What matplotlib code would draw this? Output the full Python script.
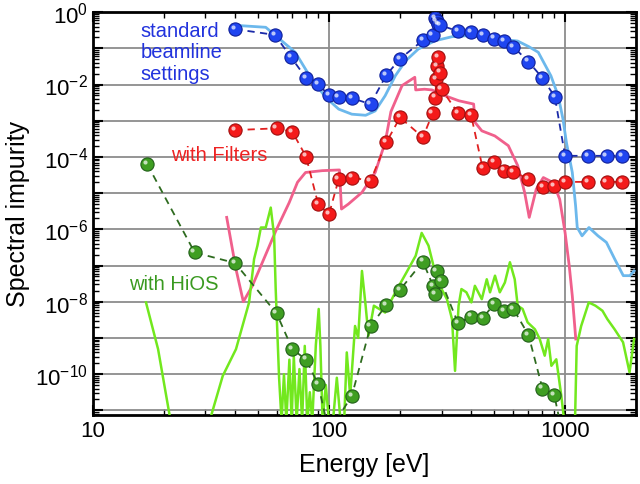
import numpy as np
import matplotlib
matplotlib.use('Agg')
import matplotlib.pyplot as plt
from matplotlib.ticker import LogLocator, FixedLocator, FuncFormatter, NullFormatter
from matplotlib.transforms import ScaledTranslation

plt.rcParams['font.family'] = ['Liberation Sans', 'DejaVu Sans']
plt.rcParams['mathtext.fontset'] = 'custom'
plt.rcParams['mathtext.rm'] = 'Liberation Sans'
plt.rcParams['mathtext.it'] = 'Liberation Sans:italic'
plt.rcParams['axes.unicode_minus'] = False

# ---- data (energy in eV, impurity stored as log10) ----
std_E = [40, 59, 69, 80, 90, 100, 110, 125, 150, 175, 200, 250, 275, 282, 286, 291, 296,
         352, 400, 448, 500, 551, 604, 700, 802, 905, 1000, 1250, 1500, 1750]
std_log = [-0.47, -0.63, -1.24, -1.82, -1.99, -2.30, -2.34, -2.38, -2.54, -1.74, -1.29, -0.78,
           -0.63, -0.17, -0.24, -0.33, -0.36, -0.53, -0.55, -0.64, -0.73, -0.81, -0.96, -1.37,
           -1.82, -2.34, -3.97, -3.97, -3.97, -3.97]

filt_E = [40, 60, 70, 80, 90, 100, 110, 125, 150, 175, 200, 250, 275, 282, 285, 287, 290, 295,
          300, 352, 400, 448, 500, 551, 604, 700, 810, 900, 1000, 1250, 1500, 1750]
filt_log = [-3.26, -3.21, -3.31, -3.99, -5.30, -5.59, -4.61, -4.57, -4.66, -3.60, -2.91, -3.46,
            -2.79, -2.36, -1.85, -1.50, -1.25, -1.67, -2.13, -2.79, -2.85, -4.32, -4.15, -4.38,
            -4.41, -4.61, -4.84, -4.80, -4.69, -4.69, -4.69, -4.69]

hios_E = [17, 27, 40, 60, 70, 80, 90, 100, 125, 150, 175, 200, 250, 276, 282, 286, 298,
          352, 400, 448, 500, 551, 604, 700, 802, 900, 1000]
hios_log = [-4.20, -6.64, -6.93, -8.32, -9.31, -9.60, -10.28, -11.6, -10.6, -8.68, -8.09, -7.67,
            -6.89, -7.56, -7.79, -7.15, -7.42, -8.59, -8.41, -8.45, -8.07, -8.25, -8.20, -8.92,
            -10.4, -10.58, -12.0]

std_line_E = [39, 54, 72, 83.5, 97, 110, 125, 143, 157, 173, 191, 211, 239, 282, 332, 389, 459,
              537, 630, 700, 770, 871, 935, 980, 1013, 1073, 1108, 1126, 1180, 1262, 1378, 1496,
              1622, 1764, 1880, 1960]
std_line_log = [-0.36, -0.42, -1.11, -1.80, -2.36, -2.68, -2.82, -2.85, -2.73, -2.31, -1.76,
                -1.35, -1.02, -0.79, -0.68, -0.65, -0.70, -0.75, -0.80, -0.95, -1.11, -1.76,
                -2.31, -2.96, -3.60, -4.43, -5.35, -5.95, -6.18, -5.95, -6.18, -6.36, -6.82,
                -7.28, -7.28, -7.15]

filt_line_E = [36.9, 40.4, 43.4, 47.4, 53, 59.6, 67.9, 73.6, 79.6, 93.6, 110.8, 113, 121, 138,
               157, 173, 183, 204, 231, 233, 254, 273, 310, 355, 410, 416, 444, 504, 575, 630,
               674, 705, 755, 809, 891, 949, 1000, 1041, 1073, 1110]
filt_line_log = [-5.67, -7.1, -8.0, -7.56, -6.82, -6.04, -5.26, -4.70, -4.43, -4.38, -4.36,
                 -5.44, -5.30, -4.98, -4.43, -3.60, -2.75, -2.03, -1.80, -2.15, -2.13, -2.15,
                 -2.31, -2.45, -2.54, -3.05, -3.28, -3.42, -3.69, -4.24, -4.98, -5.67, -4.89,
                 -4.57, -4.71, -5.17, -6.09, -7.0, -7.84, -9.03]

hios_line_E = [16.8, 18.9, 21.1, 23, 30, 31.7, 35.5, 40.4, 45.9, 48.2, 49.8, 51.5, 54, 56.7,
               58.6, 59.5, 61.5, 63, 64.5, 66, 68, 69.5, 71, 73, 75, 77, 79, 81, 83, 85, 88,
               90.5, 92, 94, 97, 100, 104, 108, 112, 116, 119, 123, 129, 133, 138, 143, 147,
               155, 173, 191, 213, 233, 247, 264, 277, 300, 316, 332, 342, 354, 364, 382, 401,
               415, 444, 466, 481, 505, 529, 556, 584, 612, 630, 661, 694, 745, 781, 820, 848,
               875, 918, 964, 1000, 1050, 1100, 1120, 1170, 1260, 1345, 1440, 1510, 1620,
               1760, 1875, 1960]
hios_line_log = [-8.02, -9.31, -11.1, -12.0, -12.0, -11.15, -10.05, -9.31, -8.02, -6.82, -6.45,
                 -5.95, -5.95, -5.40, -6.18, -7.65, -10.1, -11.3, -10.0, -11.3, -9.6, -11.3,
                 -9.5, -11.3, -9.86, -11.3, -9.22, -11.3, -10.5, -11.3, -9.2, -8.2, -9.22,
                 -11.3, -10.3, -11.3, -11.3, -10.1, -11.3, -11.3, -9.4, -10.6, -8.67, -9.0,
                 -7.15, -8.11, -8.94, -8.11, -8.30, -7.74, -7.19, -6.73, -6.10, -6.45, -7.0,
                 -7.65, -7.93, -8.48, -9.91, -8.11, -7.65, -7.74, -8.02, -7.56, -7.93, -7.38,
                 -7.74, -7.28, -7.74, -7.47, -6.91, -7.38, -8.11, -8.20, -8.57, -8.76, -9.03,
                 -9.49, -9.03, -9.77, -9.59, -10.6, -11.5, -12.0, -11.5, -9.22, -8.67, -8.02,
                 -8.11, -8.25, -8.48, -8.76, -9.12, -9.95, -9.03]


def v(logs):
    return 10.0 ** np.array(logs)


fig = plt.figure(figsize=(6.4, 4.85), dpi=100)
ax = fig.add_axes([0.145, 0.143, 0.849, 0.830])


def balls(x, y, face, edge):
    ax.plot(x, y, 'o', ms=9.5, mfc=face, mec=edge, mew=0.8, zorder=5)
    hl = ax.transData + ScaledTranslation(-1.6 / 72, 1.6 / 72, fig.dpi_scale_trans)
    ax.plot(x, y, 'o', ms=3, mfc='white', mec='none', alpha=0.7, transform=hl, zorder=6)


# simulated curves
ax.plot(std_line_E, v(std_line_log), color='#6cb8ec', lw=2, zorder=3)
ax.plot(filt_line_E, v(filt_line_log), color='#f0608c', lw=2, zorder=3)
ax.plot(hios_line_E, v(hios_line_log), color='#72e81e', lw=1.8, zorder=3)

# measured points
ax.plot(std_E, v(std_log), color='#1a2aa8', lw=1.3, ls=(0, (4, 3)), zorder=4)
balls(std_E, v(std_log), '#1f45f0', '#10209a')
ax.plot(filt_E, v(filt_log), color='#e02020', lw=1.3, ls=(0, (4, 3)), zorder=4)
balls(filt_E, v(filt_log), '#f41a1a', '#a01010')
ax.plot(hios_E, v(hios_log), color='#2e6b1f', lw=1.3, ls=(0, (4, 3)), zorder=4)
balls(hios_E, v(hios_log), '#3f9e22', '#22601a')

ax.set_xscale('log')
ax.set_yscale('log')
ax.set_xlim(10, 2000)
ax.set_ylim(7.6e-12, 1)

ax.xaxis.set_major_locator(FixedLocator([10, 100, 1000]))
ax.xaxis.set_major_formatter(FuncFormatter(lambda x, p: '%d' % x))
ax.xaxis.set_minor_locator(LogLocator(base=10, subs=range(2, 10), numticks=20))
ax.xaxis.set_minor_formatter(NullFormatter())

ax.yaxis.set_major_locator(LogLocator(base=10, numticks=30))


def ylab(y, p):
    e = int(round(np.log10(y)))
    return '10$^{%d}$' % e if e % 2 == 0 else ''


ax.yaxis.set_major_formatter(FuncFormatter(ylab))
ax.yaxis.set_minor_locator(LogLocator(base=10, subs=range(2, 10), numticks=30))
ax.yaxis.set_minor_formatter(NullFormatter())

ax.grid(True, which='major', color='#8c8c8c', lw=1.3, zorder=0)
ax.tick_params(which='both', direction='in', top=True, right=True, labelsize=16)
ax.tick_params(which='major', length=7, width=1.5)
ax.tick_params(which='minor', length=4, width=1.0)
for s in ax.spines.values():
    s.set_linewidth(2)

ax.set_xlabel('Energy [eV]', fontsize=18, labelpad=8)
ax.set_ylabel('Spectral impurity', fontsize=18, labelpad=4)

ax.text(15.9, 10 ** -1.10, 'standard\nbeamline\nsettings', color='#2233dd', fontsize=14.5,
        ha='left', va='center', linespacing=1.15, zorder=7)
ax.text(21.5, 10 ** -3.92, 'with Filters', color='#ee2222', fontsize=14.5,
        ha='left', va='center', zorder=7)
ax.text(14.3, 10 ** -7.49, 'with HiOS', color='#3a9a20', fontsize=14.5,
        ha='left', va='center', zorder=7)

fig.savefig('out.png', dpi=100)
